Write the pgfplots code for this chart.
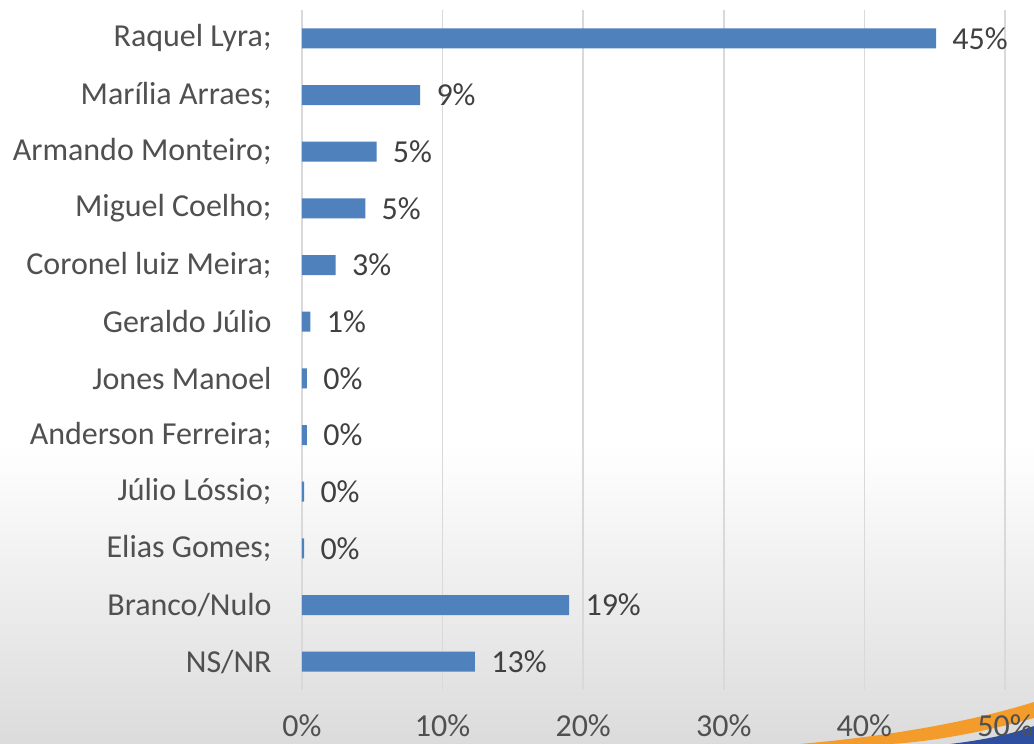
\documentclass[border=0pt]{standalone}
\usepackage{fontspec}
\setmainfont{Carlito}
\usepackage{pgfplots}
\usepackage{pgfplotstable}
\pgfplotsset{compat=1.18}
\definecolor{barblue}{HTML}{4F81BD}
\definecolor{gridgray}{HTML}{D9D9D9}
\definecolor{labgray}{HTML}{505050}
\definecolor{datagray}{HTML}{404040}
\definecolor{swoosh}{HTML}{F39C2B}
\definecolor{swooshblue}{HTML}{2E4FA0}
\pgfplotstableread{
i v lab
0 45.1 45\%
1 8.4 9\%
2 5.3 5\%
3 4.5 5\%
4 2.4 3\%
5 0.6 1\%
6 0.35 0\%
7 0.35 0\%
8 0.15 0\%
9 0.15 0\%
10 19.0 19\%
11 12.3 13\%
}\datatable
\begin{document}
\begin{tikzpicture}
\useasboundingbox (0,0) rectangle (517pt,372pt);
\fill[white] (0,0) rectangle (517pt,372pt);
\shade[top color=white, bottom color=black!14] (0,0) rectangle (517pt,150pt);
\fill[swoosh] (400pt,0) .. controls (445pt,4pt) and (485pt,11pt) .. (517pt,21pt) -- (517pt,13pt) .. controls (492pt,6pt) and (465pt,1pt) .. (445pt,0) -- cycle;
\fill[swooshblue] (475pt,0) .. controls (492pt,2pt) and (506pt,5pt) .. (517pt,9pt) -- (517pt,0) -- cycle;
\begin{axis}[
  at={(151pt,27pt)}, anchor=south west,
  scale only axis, width=351.5pt, height=340pt,
  xbar, bar width=10pt,
  xmin=0, xmax=50, ymin=-0.5, ymax=11.5,
  y dir=reverse,
  ytick={0,...,11},
  yticklabels={Raquel Lyra;,Marília Arraes;,Armando Monteiro;,Miguel Coelho;,Coronel luiz Meira;,Geraldo Júlio,Jones Manoel,Anderson Ferreira;,Júlio Lóssio;,Elias Gomes;,Branco/Nulo,NS/NR},
  xtick={0,10,...,50},
  xticklabels={0\%,10\%,20\%,30\%,40\%,50\%},
  xmajorgrids,
  major grid style={draw=gridgray, line width=0.8pt},
  axis line style={draw=none},
  major tick length=0pt,
  tick label style={font=\fontsize{16}{18}\selectfont, text=labgray},
  yticklabel style={inner sep=0pt, anchor=east, xshift=-15pt},
  xticklabel style={inner sep=0pt, anchor=north, yshift=-12pt},
  nodes near coords,
  point meta=explicit symbolic,
  every node near coord/.append style={font=\fontsize{16}{18}\selectfont, text=datagray, anchor=west, inner sep=0pt, xshift=8pt},
  clip=false,
]
\addplot[fill=barblue, draw=none] table[x=v, y=i, meta=lab] {\datatable};
\end{axis}
\end{tikzpicture}
\end{document}
